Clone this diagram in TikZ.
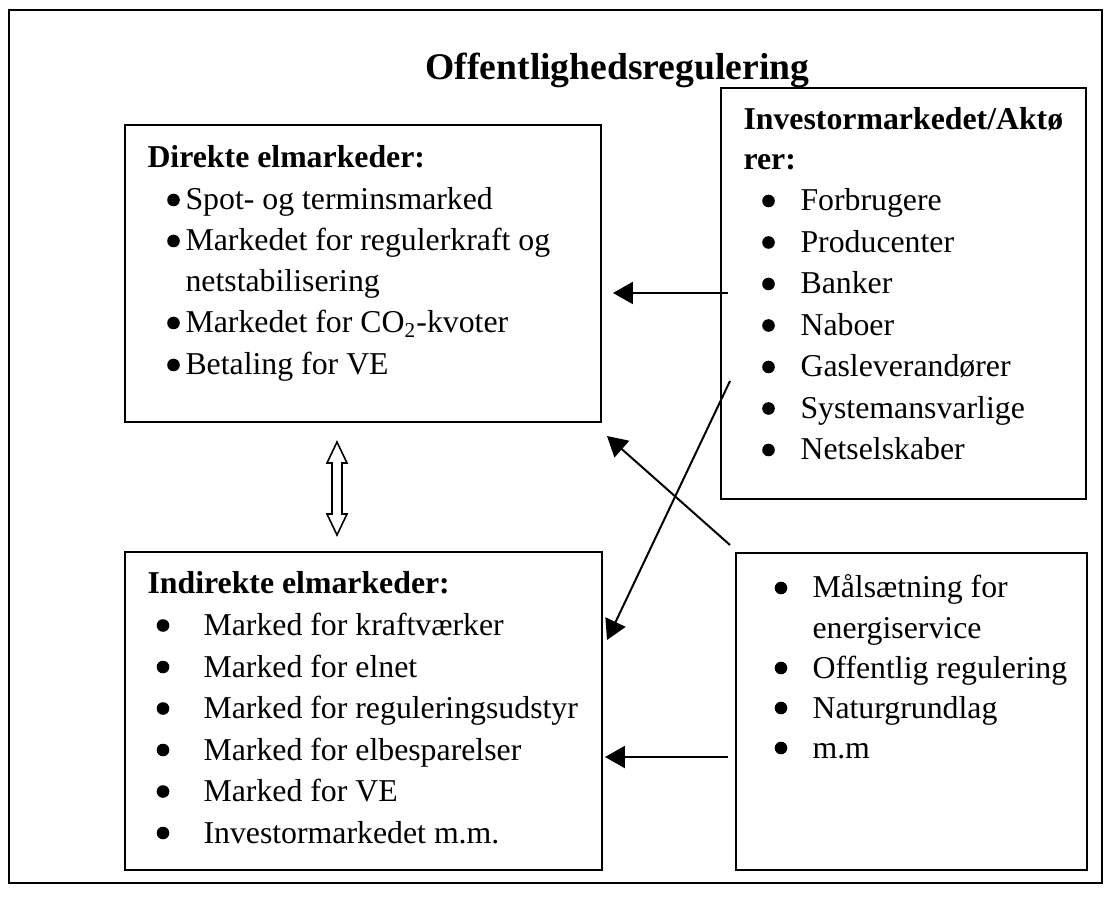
\documentclass[tikz,border=0pt]{standalone}
\usepackage{fontspec}
\setmainfont{Liberation Serif}
\usepackage{tikz}
\usetikzlibrary{arrows.meta}

\newdimen\pxu
\pxu=0.3774pt

\begin{document}
\begin{tikzpicture}[x=\pxu, y=-\pxu, every node/.style={font=\fontsize{12}{15}\selectfont, inner sep=0pt},
    box/.style={draw, line width=0.75pt, rectangle},
    line/.style={anchor=base west},
    head/.style={anchor=base west, font=\fontsize{12}{15}\selectfont\bfseries},
    link/.style={-{Triangle[length=7.5pt, width=8.3pt]}, line width=0.75pt}]
    \useasboundingbox (0,0) rectangle (1120,923);
    % Frame
    \node[draw, line width=1.1pt, minimum width=1093\pxu, minimum height=873\pxu] (frame) at (555.5,446.5) {};

    % Title
    \node[anchor=base west, font=\fontsize{14.2}{17}\selectfont\bfseries] (title) at (425,80) {Offentlighedsregulering};

    % Direkte elmarkeder
    \node[box, minimum width=476\pxu, minimum height=297\pxu] (direkte) at (363,273.5) {};
    \node[head] (direkte-h) at (147,168) {Direkte elmarkeder:};
    \node[line] (direkte-1) at (185,210) {Spot- og terminsmarked};
    \node[line] (direkte-2) at (185,251) {Markedet for regulerkraft og};
    \node[line] (direkte-3) at (185,292) {netstabilisering};
    \node[line] (direkte-4) at (185,333) {Markedet for CO\textsubscript{2}-kvoter};
    \node[line] (direkte-5) at (185,375) {Betaling for VE};
    \foreach \y in {210,251,333,375}
        \fill (173.5,\y-10) circle (6.3);

    % Investormarkedet
    \node[box, minimum width=365\pxu, minimum height=411\pxu] (investor) at (903.5,293.5) {};
    \node[head] (investor-h1) at (743,130) {Investormarkedet/Aktø};
    \node[head] (investor-h2) at (743,170) {rer:};
    \foreach \txt [count=\i] in {Forbrugere, Producenter, Banker, Naboer, Gasleverandører, Systemansvarlige, Netselskaber} {
        \node[line] (investor-\i) at (800,169.5+41.5*\i) {\txt};
        \fill (768.5,159.5+41.5*\i) circle (6.3);
    }

    % Indirekte elmarkeder
    \node[box, minimum width=477\pxu, minimum height=318\pxu] (indirekte) at (363.5,711) {};
    \node[head] (indirekte-h) at (147,594) {Indirekte elmarkeder:};
    \foreach \txt [count=\i] in {Marked for kraftværker, Marked for elnet, Marked for reguleringsudstyr, Marked for elbesparelser, Marked for VE, Investormarkedet m.m.} {
        \node[line] (indirekte-\i) at (203,594+41.5*\i) {\txt};
        \fill (163,584+41.5*\i) circle (6.3);
    }

    % Rammer
    \node[box, minimum width=351\pxu, minimum height=317\pxu] (rammer) at (911.5,711.5) {};
    \node[line] (rammer-1) at (812,598) {Målsætning for};
    \node[line] (rammer-2) at (812,638) {energiservice};
    \node[line] (rammer-3) at (812,678) {Offentlig regulering};
    \node[line] (rammer-4) at (812,718) {Naturgrundlag};
    \node[line] (rammer-5) at (812,758) {m.m};
    \foreach \y in {598,678,718,758}
        \fill (781,\y-10) circle (6.3);

    % Arrows
    \coordinate (a1) at (728,293);
    \coordinate (a2) at (730,381);
    \coordinate (a3) at (730,545);
    \coordinate (a4) at (728,757);
    \draw[link] (a1) -- (613,293);
    \draw[link] (a2) -- (607,640);
    \draw[link] (a3) -- (607,436);
    \draw[link] (a4) -- (605,757);

    % Hollow double arrow
    \coordinate (updown) at (337,442);
    \draw[line width=0.6pt] (updown) -- ++(10,21) -- ++(-5,0) -- ++(0,51) -- ++(5,0) -- ++(-10,21)
        -- ++(-10,-21) -- ++(5,0) -- ++(0,-51) -- ++(-5,0) -- cycle;
\end{tikzpicture}
\end{document}
